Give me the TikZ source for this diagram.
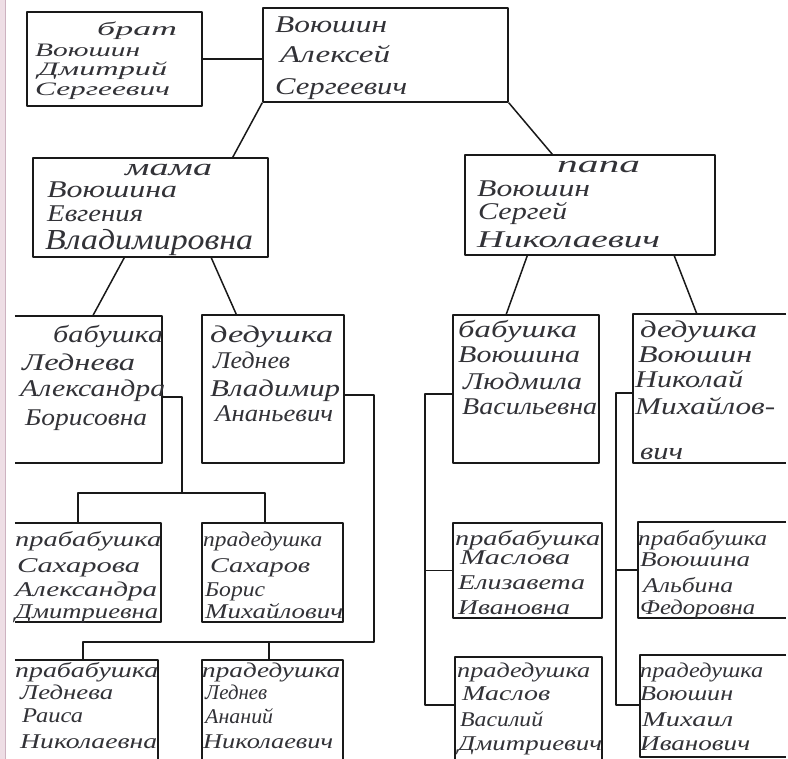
\documentclass[tikz,border=0pt]{standalone}
\usepackage{fontspec}
\usepackage{graphicx}
\usetikzlibrary{fit}
\newfontfamily\handfont{Liberation Serif}
\definecolor{ink}{RGB}{25,25,25}
\definecolor{pen}{RGB}{50,50,55}
\definecolor{pinkbg}{RGB}{238,222,229}
\definecolor{pinkln}{RGB}{205,178,192}
\newlength\natw
\newcommand\fitw[2]{\settowidth{\natw}{#2}\pgfmathsetmacro\fitr{#1/\natw}\scalebox{\fitr}[1]{#2}}
\newcommand\tl[6][]{\node[hw,#1] (#2) at (#3,#4) {\fitw{#5}{#6}};}
\tikzset{
 box/.style={draw=ink, line width=1.5pt, inner sep=0pt, line join=round},
 obox/.style={draw=none, inner sep=0pt},
 edge/.style={draw=ink, line width=1.5pt, line join=round},
 hw/.style={anchor=base west, inner sep=0pt, text=pen, font=\handfont\itshape\fontsize{24}{28}\selectfont},
 smltxt/.style={font=\handfont\itshape\fontsize{21}{25}\selectfont},
 midtxt/.style={font=\handfont\itshape\fontsize{19}{23}\selectfont},
 bigtxt/.style={font=\handfont\itshape\fontsize{29}{33}\selectfont},
}
\begin{document}
\begin{tikzpicture}[x=1pt,y=-1pt]
\useasboundingbox (0,0) rectangle (788,759);
\fill[white] (0,0) rectangle (788,759);
\fill[pinkbg] (0,0) rectangle (5,759);
\draw[pinkln, line width=1pt] (5,0) -- (5,759);

% ---------- boxes ----------
\node[box, fit={(27,12) (202,106)}] (brat) {};
\node[box, fit={(263,8) (508,102)}] (alex) {};
\node[box, fit={(33,158) (268,257)}] (mama) {};
\node[box, fit={(465,155) (715,255)}] (papa) {};

\node[obox, fit={(15,316) (162,463)}] (babL) {};
\draw[edge] (babL.north west) -- (babL.north east) -- (babL.south east) -- (babL.south west);
\node[box, fit={(202,315) (344,463)}] (dedL) {};
\node[box, fit={(453,315) (599,463)}] (babV) {};
\node[obox, fit={(633,314) (786,463)}] (dedV) {};
\draw[edge] (dedV.north east) -- (dedV.north west) -- (dedV.south west) -- (dedV.south east);

\node[obox, fit={(15,523) (161,622)}] (pbS) {};
\draw[edge] (pbS.north west) -- (pbS.north east) -- (pbS.south east) -- (pbS.south west);
\node[box, fit={(202,523) (343,622)}] (pdS) {};
\node[box, fit={(453,523) (602,618)}] (pbM) {};
\node[obox, fit={(638,522) (786,618)}] (pbV) {};
\draw[edge] (pbV.north east) -- (pbV.north west) -- (pbV.south west) -- (pbV.south east);

\node[obox, fit={(15,660) (158,759)}] (pbL) {};
\draw[edge] (pbL.north west) -- (pbL.north east) -- (pbL.south east);
\node[obox, fit={(202,660) (343,759)}] (pdL) {};
\draw[edge] (pdL.south west) -- (pdL.north west) -- (pdL.north east) -- (pdL.south east);
\node[obox, fit={(455,657) (602,759)}] (pdM) {};
\draw[edge] (pdM.south west) -- (pdM.north west) -- (pdM.north east) -- (pdM.south east);
\node[obox, fit={(640,655) (786,757)}] (pdV) {};
\draw[edge] (pdV.north east) -- (pdV.north west) -- (pdV.south west) -- (pdV.south east);

% ---------- connectors ----------
\draw[edge] (brat.east) -- (brat.east -| alex.west);
\draw[edge] (alex.south west) -- ([xshift=-36pt]mama.north east);
\draw[edge] (alex.south east) -- ([xshift=88pt]papa.north west);
\draw[edge] ([xshift=92pt]mama.south west) -- ([xshift=78pt]babL.north west);
\draw[edge] ([xshift=179pt]mama.south west) -- ([xshift=35pt]dedL.north west);
\draw[edge] ([xshift=63pt]papa.south west) -- ([xshift=54pt]babV.north west);
\draw[edge] ([xshift=210pt]papa.south west) -- ([xshift=64pt]dedV.north west);

\coordinate (kA) at (182,397);
\coordinate (hA1) at (78,493);
\coordinate (hA2) at (265,493);
\draw[edge] (babL.east |- kA) -- (kA) -- (kA |- hA1);
\draw[edge] (hA1 |- pbS.north) -- (hA1) -- (hA2) -- (hA2 |- pdS.north);

\coordinate (kB) at (374,395);
\coordinate (hB1) at (83,642);
\coordinate (hB2) at (269,642);
\draw[edge] (dedL.east |- kB) -- (kB) -- (kB |- hB1) -- (hB1) -- (hB1 |- pbL.north);
\draw[edge] (hB2) -- (hB2 |- pdL.north);

\coordinate (kC) at (425,394);
\coordinate (kC2) at (425,705);
\draw[edge] (babV.west |- kC) -- (kC) -- (kC2) -- (kC2 -| pdM.west);
\draw[edge] (pbM.west -| kC) -- (pbM.west);

\coordinate (kD) at (616,393);
\coordinate (kD2) at (616,705);
\draw[edge] (dedV.west |- kD) -- (kD) -- (kD2) -- (kD2 -| pdV.west);
\draw[edge] (pbV.west -| kD) -- (pbV.west);

% ---------- texts ----------
\tl[midtxt]{t1a}{97}{36}{80}{брат}
\tl[midtxt]{t1b}{35}{57}{105}{Воюшин}
\tl[midtxt]{t1c}{38}{76}{129}{Дмитрий}
\tl[midtxt]{t1d}{35}{96}{135}{Сергеевич}

\tl{t2a}{275}{33}{112}{Воюшин}
\tl{t2b}{280}{63}{110}{Алексей}
\tl{t2c}{275}{95}{132}{Сергеевич}

\tl{t3a}{125}{176}{87}{мама}
\tl{t3b}{47}{198}{130}{Воюшина}
\tl{t3c}{47}{222}{96}{Евгения}
\tl[bigtxt]{t3d}{45}{250}{208}{Владимировна}

\tl{t4a}{557}{173}{83}{папа}
\tl{t4b}{477}{197}{113}{Воюшин}
\tl{t4c}{478}{220}{89}{Сергей}
\tl{t4d}{477}{248}{183}{Николаевич}

\tl{t5a}{53}{343}{110}{бабушка}
\tl{t5b}{22}{371}{113}{Леднева}
\tl{t5c}{20}{397}{145}{Александра}
\tl{t5d}{25}{426}{122}{Борисовна}

\tl{t6a}{210}{343}{123}{дедушка}
\tl{t6b}{213}{369}{77}{Леднев}
\tl{t6c}{210}{397}{130}{Владимир}
\tl{t6d}{215}{422}{118}{Ананьевич}

\tl{t11a}{458}{338}{119}{бабушка}
\tl{t11b}{458}{363}{122}{Воюшина}
\tl{t11c}{463}{390}{119}{Людмила}
\tl{t11d}{462}{415}{135}{Васильевна}

\tl{t12a}{640}{338}{117}{дедушка}
\tl{t12b}{638}{363}{114}{Воюшин}
\tl{t12c}{635}{388}{108}{Николай}
\tl{t12d}{635}{415}{140}{Михайлов-}
\tl{t12e}{640}{460}{43}{вич}

\tl[smltxt]{t7a}{15}{547}{146}{прабабушка}
\tl[smltxt]{t7b}{17}{572}{123}{Сахарова}
\tl[smltxt]{t7c}{15}{596}{142}{Александра}
\tl[smltxt]{t7d}{15}{618}{143}{Дмитриевна}

\tl[smltxt]{t8a}{203}{547}{119}{прадедушка}
\tl[smltxt]{t8b}{210}{572}{100}{Сахаров}
\tl[smltxt]{t8c}{205}{596}{60}{Борис}
\tl[smltxt]{t8d}{205}{618}{138}{Михайлович}

\tl[smltxt]{t13a}{455}{545}{145}{прабабушка}
\tl[smltxt]{t13b}{460}{565}{110}{Маслова}
\tl[smltxt]{t13c}{458}{589}{127}{Елизавета}
\tl[smltxt]{t13d}{458}{614}{112}{Ивановна}

\tl[smltxt]{t14a}{638}{545}{129}{прабабушка}
\tl[smltxt]{t14b}{640}{566}{110}{Воюшина}
\tl[smltxt]{t14c}{643}{592}{90}{Альбина}
\tl[smltxt]{t14d}{640}{614}{115}{Федоровна}

\tl[smltxt]{t9a}{15}{677}{143}{прабабушка}
\tl[smltxt]{t9b}{20}{699}{93}{Леднева}
\tl[smltxt]{t9c}{22}{722}{61}{Раиса}
\tl[smltxt]{t9d}{20}{748}{137}{Николаевна}

\tl[smltxt]{t10a}{202}{677}{138}{прадедушка}
\tl[smltxt]{t10b}{205}{699}{62}{Леднев}
\tl[smltxt]{t10c}{205}{723}{68}{Ананий}
\tl[smltxt]{t10d}{203}{748}{130}{Николаевич}

\tl[smltxt]{t15a}{457}{677}{133}{прадедушка}
\tl[smltxt]{t15b}{462}{700}{88}{Маслов}
\tl[smltxt]{t15c}{460}{726}{83}{Василий}
\tl[smltxt]{t15d}{458}{750}{144}{Дмитриевич}

\tl[smltxt]{t16a}{640}{677}{123}{прадедушка}
\tl[smltxt]{t16b}{640}{700}{93}{Воюшин}
\tl[smltxt]{t16c}{642}{726}{91}{Михаил}
\tl[smltxt]{t16d}{640}{750}{110}{Иванович}
\end{tikzpicture}
\end{document}
